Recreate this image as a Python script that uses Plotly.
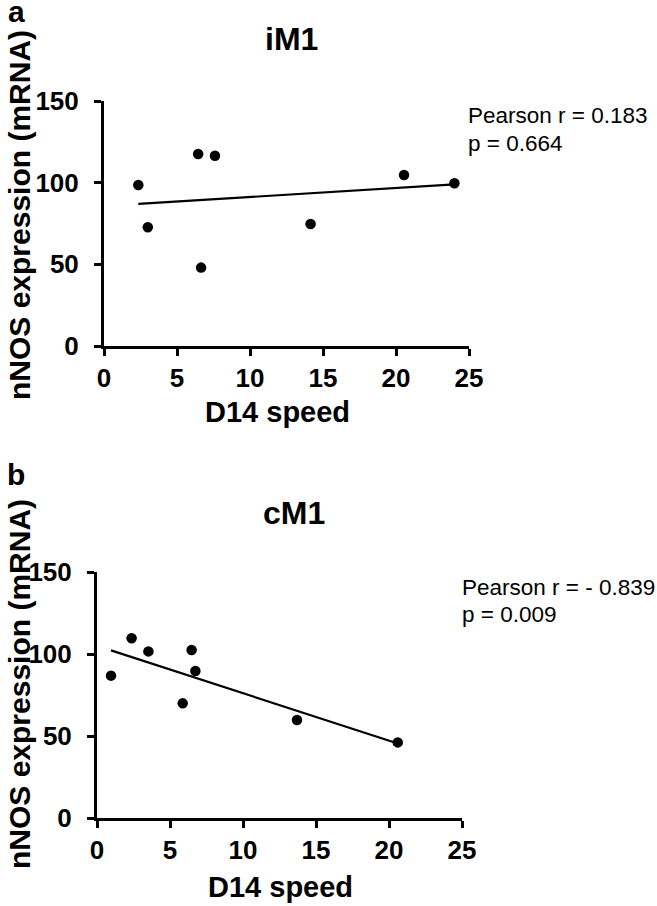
import numpy as np
import plotly.graph_objects as go

# ---- data ----
im1_speed = [2.35, 3.0, 6.45, 6.65, 7.6, 14.15, 20.55, 24.0]
im1_nnos = [98.6, 72.7, 117.6, 48.0, 116.5, 74.7, 104.7, 99.6]
cm1_speed = [0.96, 2.37, 3.52, 5.87, 6.48, 6.74, 13.7, 20.6]
cm1_nnos = [86.8, 109.6, 101.6, 69.9, 102.4, 89.6, 59.8, 46.1]

panel_titles = ["iM1", "cM1"]
panel_letters = ["a", "b"]
stats_top = ["Pearson r = 0.183", "p = 0.664"]
stats_bottom = ["Pearson r = - 0.839", "p = 0.009"]
x_title = "D14 speed"
y_title = "nNOS expression (mRNA)"
x_ticks = [0, 5, 10, 15, 20, 25]
y_ticks = [0, 50, 100, 150]

W, H = 657, 906


def px(x):
    return x / W


def py(y):
    return 1 - y / H


FONT = "Liberation Sans, Arial, Helvetica, sans-serif"

fig = go.Figure()


def add_panel(xs, ys, xa, ya):
    fig.add_trace(go.Scatter(
        x=xs, y=ys, mode="markers", xaxis=xa, yaxis=ya,
        marker=dict(color="black", size=10.5, line=dict(width=0)),
        cliponaxis=False, showlegend=False, hoverinfo="skip"))
    slope, icpt = np.polyfit(xs, ys, 1)
    lx = np.array([min(xs), max(xs)])
    fig.add_trace(go.Scatter(
        x=lx, y=slope * lx + icpt, mode="lines", xaxis=xa, yaxis=ya,
        line=dict(color="black", width=2.2), cliponaxis=False,
        showlegend=False, hoverinfo="skip"))


add_panel(im1_speed, im1_nnos, "x", "y")
add_panel(cm1_speed, cm1_nnos, "x2", "y2")

axis_common = dict(
    showline=True, linecolor="black", linewidth=3,
    ticks="outside", ticklen=7, tickwidth=3, tickcolor="black",
    showgrid=False, zeroline=False, automargin=False, fixedrange=True,
    tickfont=dict(family=FONT, size=26, color="black", weight="bold"),
)

fig.update_layout(
    template="none",
    width=W, height=H,
    margin=dict(l=0, r=0, t=0, b=0, autoexpand=False),
    paper_bgcolor="white", plot_bgcolor="white",
    xaxis=dict(domain=[px(104), px(469)], range=[0, 25], tickvals=x_ticks,
               anchor="y", ticklabelstandoff=0, **axis_common),
    yaxis=dict(domain=[py(346), py(101)], range=[0, 150], tickvals=y_ticks,
               anchor="x", ticklabelstandoff=10, **axis_common),
    xaxis2=dict(domain=[px(97), px(462)], range=[0, 25], tickvals=x_ticks,
                anchor="y2", ticklabelstandoff=0, **axis_common),
    yaxis2=dict(domain=[py(818), py(572)], range=[0, 150], tickvals=y_ticks,
                anchor="x2", ticklabelstandoff=10, **axis_common),
)

ann = []
bold = lambda s: dict(family=FONT, size=s, color="black", weight="bold")
reg = lambda s: dict(family=FONT, size=s, color="black")

# panel letters
ann.append(dict(text=panel_letters[0], x=px(16), y=py(12), font=bold(30)))
ann.append(dict(text=panel_letters[1], x=px(16), y=py(474), font=bold(30)))
# titles
ann.append(dict(text=panel_titles[0], x=px(291), y=py(39), font=bold(32)))
ann.append(dict(text=panel_titles[1], x=px(294), y=py(513), font=bold(32)))
# x titles
ann.append(dict(text=x_title, x=px(277), y=py(412), font=bold(29)))
ann.append(dict(text=x_title, x=px(280), y=py(887), font=bold(29)))
# y titles
ann.append(dict(text=y_title, x=px(19), y=py(215), textangle=-90, font=bold(30)))
ann.append(dict(text=y_title, x=px(19), y=py(684), textangle=-90, font=bold(30)))
# stats
ann.append(dict(text=stats_top[0], x=px(466), y=py(116), xanchor="left", font=reg(22.5)))
ann.append(dict(text=stats_top[1], x=px(466), y=py(143), xanchor="left", font=reg(22.5)))
ann.append(dict(text=stats_bottom[0], x=px(460), y=py(587), xanchor="left", font=reg(22.5)))
ann.append(dict(text=stats_bottom[1], x=px(460), y=py(614), xanchor="left", font=reg(22.5)))

for a in ann:
    a.setdefault("xanchor", "center")
    a["xref"] = "paper"
    a["yref"] = "paper"
    a["yanchor"] = "middle"
    a["showarrow"] = False
fig.update_layout(annotations=ann)

fig.write_html("out.html",
               config={"displayModeBar": False, "staticPlot": True},
               post_script="document.body.style.margin='0px';"
                           "document.body.style.padding='0px';"
                           "document.body.style.overflow='hidden';")
